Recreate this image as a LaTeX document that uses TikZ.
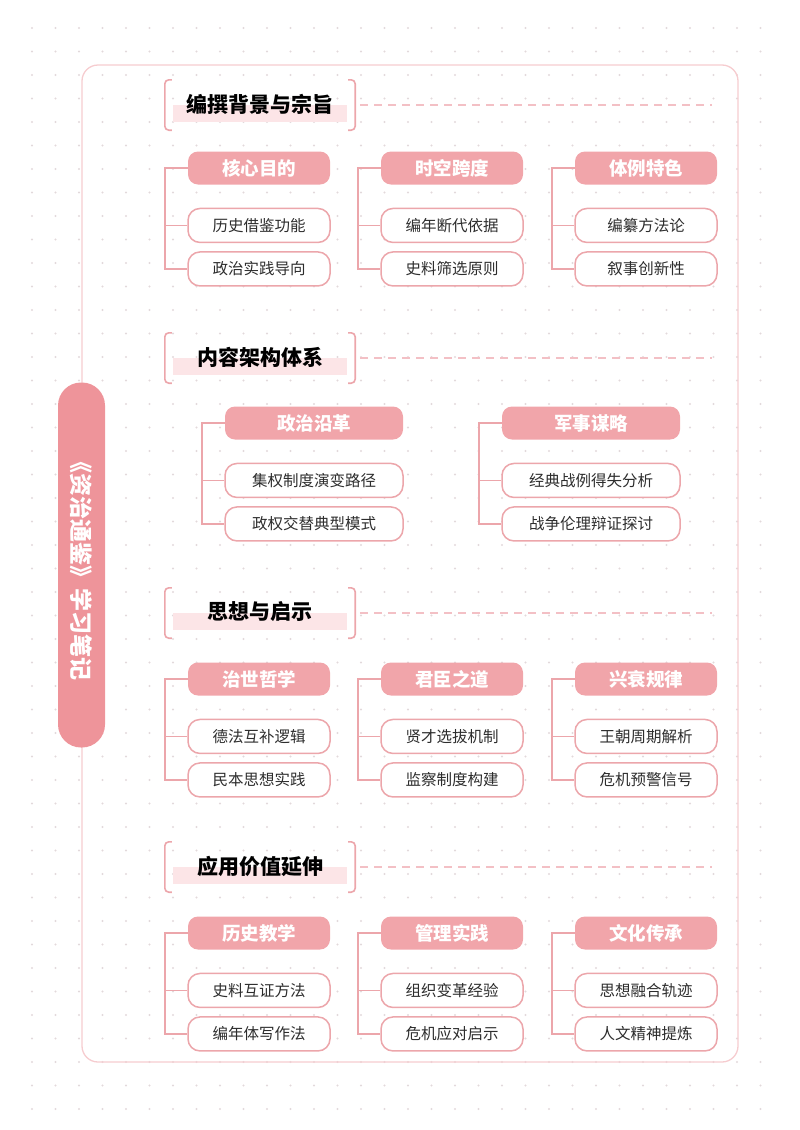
\documentclass[tikz,border=0pt]{standalone}
\usepackage{fontspec}
\setmainfont{Noto Sans CJK SC}
\usepackage{tikz}
\usepackage{xcolor}
\usetikzlibrary{positioning}

\definecolor{headpink}{RGB}{241,165,170}
\definecolor{titlepink}{RGB}{238,148,154}
\definecolor{linepink}{RGB}{236,166,171}
\definecolor{framepink}{RGB}{246,204,207}
\definecolor{barpink}{RGB}{252,229,231}
\definecolor{dashpink}{RGB}{243,192,197}
\definecolor{dotgray}{RGB}{226,217,219}
\definecolor{textgray}{RGB}{45,45,45}

\tikzset{
  headbox/.style={fill=headpink, rounded corners=10pt, text=white, minimum height=33pt, inner sep=0pt,
    font=\bfseries\fontsize{18.5}{18.5}\selectfont},
  leafbox/.style={draw=linepink, line width=1.5pt, fill=white, rounded corners=12pt, text=textgray,
    minimum height=34pt, inner sep=0pt, font=\fontsize{15.5}{15.5}\selectfont},
  link/.style={draw=linepink, line width=1.5pt},
  secbox/.style={minimum width=190pt, minimum height=50pt, inner sep=0pt},
  sectext/.style={text=black, font=\bfseries\fontsize{21}{21}\selectfont},
  brk/.style={draw=linepink, line width=1.6pt, rounded corners=4pt},
  dashline/.style={draw=dashpink, line width=1.2pt, dash pattern=on 8pt off 6pt},
  titlepill/.style={fill=titlepink, rounded corners=23pt, text=white, minimum width=365pt,
    minimum height=47pt, inner sep=0pt, font=\bfseries\fontsize{23}{23}\selectfont}
}

\begin{document}
\begin{tikzpicture}[x=1pt,y=-1pt]
    \useasboundingbox (0,0) rectangle (800,1130);
    % dotted paper
    \foreach \i in {0,...,31}
      \foreach \j in {0,...,46}
        \fill[dotgray] (32+23.5*\i,28+23.5*\j) circle (1.1pt);

    \draw[framepink, line width=1.3pt, rounded corners=16pt] (82,65) rectangle (738,1062);
    \node[titlepill, rotate=-90] (title) at (81.5,565) {《资治通鉴》学习笔记};

    % section headers
    \foreach \n/\cy/\t in {s1/105/编撰背景与宗旨, s2/358/内容架构体系, s3/613/思想与启示, s4/867/应用价值延伸}{
      \node[secbox] (\n) at (260,\cy) {};
      \fill[barpink] ([xshift=8pt]\n.west) rectangle ([xshift=-8pt,yshift=-17pt]\n.east);
      \node[sectext, yshift=1pt] (\n t) at (\n) {\t};
      \draw[brk] ([xshift=7pt]\n.north west) -- (\n.north west) -- (\n.south west) -- ([xshift=7pt]\n.south west);
      \draw[brk] ([xshift=-7pt]\n.north east) -- (\n.north east) -- (\n.south east) -- ([xshift=-7pt]\n.south east);
      \coordinate (\n e) at (712,\cy);
      \draw[dashline] ([xshift=5pt]\n.east) -- (\n e);
    }

    % groups: name / x / y / width / head / two items
    \foreach \n/\cx/\cy/\w/\hd/\ka/\kb in {
      a/259/168/142/核心目的/历史借鉴功能/政治实践导向,
      b/452/168/142/时空跨度/编年断代依据/史料筛选原则,
      c/646/168/142/体例特色/编纂方法论/叙事创新性,
      d/314/423/178/政治沿革/集权制度演变路径/政权交替典型模式,
      e/591/423/178/军事谋略/经典战例得失分析/战争伦理辩证探讨,
      f/259/679/142/治世哲学/德法互补逻辑/民本思想实践,
      g/452/679/142/君臣之道/贤才选拔机制/监察制度构建,
      h/646/679/142/兴衰规律/王朝周期解析/危机预警信号,
      i/259/933/142/历史教学/史料互证方法/编年体写作法,
      j/452/933/142/管理实践/组织变革经验/危机应对启示,
      k/646/933/142/文化传承/思想融合轨迹/人文精神提炼}{
      \node[headbox, minimum width=\w pt] (\n) at (\cx,\cy) {\hd};
      \node[leafbox, minimum width=\w pt, below=23pt of \n] (\n1) {\ka};
      \node[leafbox, minimum width=\w pt, below=8pt of \n1] (\n2) {\kb};
      \draw[link] (\n.west) -- ++(-23,0) coordinate (\n0) |- (\n2.west);
      \draw[link] (\n1.west) -- (\n1.west -| \n0);
    }
\end{tikzpicture}
\end{document}
